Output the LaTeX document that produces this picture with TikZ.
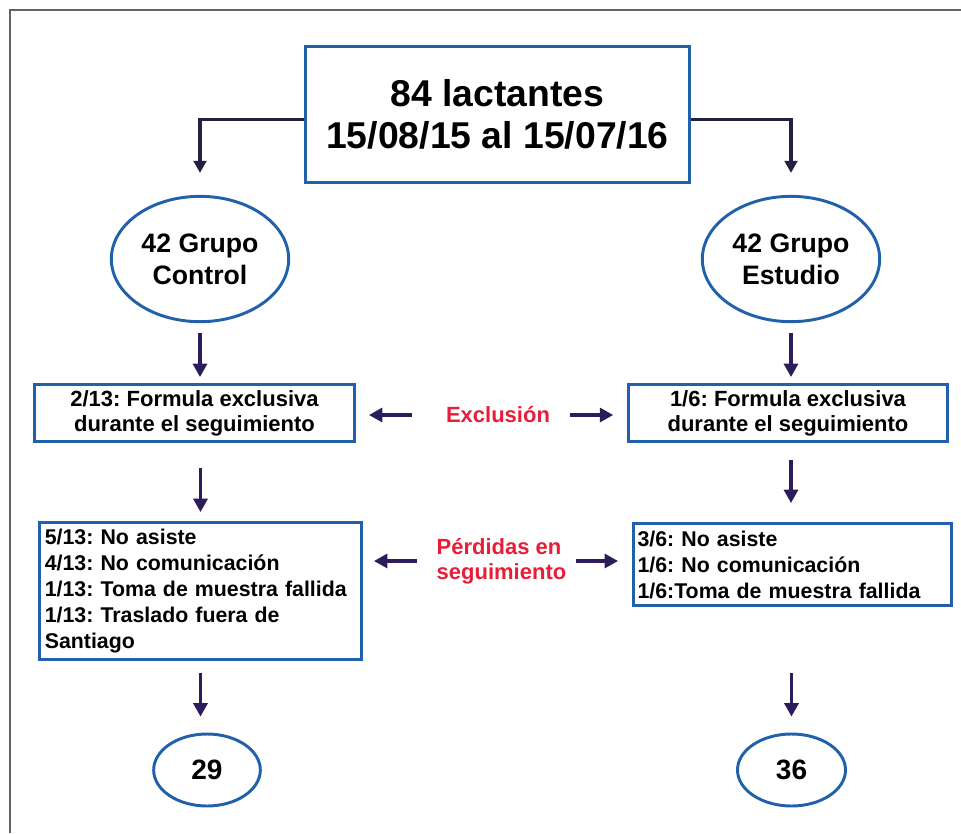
\documentclass[tikz,border=0pt]{standalone}
\usepackage{fontspec}
\setmainfont{Liberation Sans}
\usetikzlibrary{arrows.meta,shapes.geometric}
\frenchspacing
\hyphenpenalty=10000

\definecolor{azulcaja}{RGB}{33,96,170}
\definecolor{moradoflecha}{RGB}{44,28,92}
\definecolor{oscuroflecha}{RGB}{36,32,66}
\definecolor{rojoetiqueta}{RGB}{232,30,56}
\definecolor{grismarco}{RGB}{100,100,100}

\begin{document}
\begin{tikzpicture}[x=0.75pt,y=0.75pt,yscale=-1,xscale=1,
  caja/.style={draw=azulcaja, line width=2.2pt, inner sep=0pt, align=center},
  ovalo/.style={ellipse, draw=azulcaja, line width=2.2pt, inner sep=0pt, align=center},
  flecha/.style={draw=moradoflecha, line width=2.3pt, -{Triangle[length=10pt,width=10.5pt]}},
  flechasup/.style={draw=oscuroflecha, line width=2.3pt, -{Triangle[length=9pt,width=9.5pt]}},
  etiqueta/.style={text=rojoetiqueta, inner sep=0pt, font=\fontsize{16.5}{18.75}\bfseries}]
\useasboundingbox (0,0) rectangle (961,833);

%Shape: Frame
\draw [color=grismarco, line width=2.2pt] (10,833) -- (10,10) -- (961,10);

% Text Node
\node [caja, minimum width=288pt, minimum height=102pt, font=\fontsize{28}{31}\bfseries] (sup) at (497.5,114.5) {84 lactantes\\15/08/15 al 15/07/16};
% Text Node
\node [ovalo, minimum width=133pt, minimum height=94pt, font=\fontsize{20}{24}\bfseries] (ctrl) at (200,259) {42 Grupo\\Control};
% Text Node
\node [ovalo, minimum width=133pt, minimum height=94pt, font=\fontsize{20}{24}\bfseries] (est) at (791,259) {42 Grupo\\Estudio};

% Text Node
\node [caja, minimum width=240pt, minimum height=42.75pt, font=\fontsize{16.5}{18.75}\bfseries] (excA) at (194.5,413) {2/13: Formula exclusiva\\durante el seguimiento};
% Text Node
\node [caja, minimum width=239pt, minimum height=42.75pt, font=\fontsize{16.5}{18.75}\bfseries] (excB) at (788,413) {1/6: Formula exclusiva\\durante el seguimiento};

% Text Node
\node [caja, align=left, inner xsep=4pt, text width=233.5pt, minimum height=102.75pt, font=\fontsize{16}{19.5}\bfseries] (perA) at (200.5,591) {5/13: No asiste\\4/13: No comunicación\\1/13: Toma de muestra fallida\\1/13: Traslado fuera de\\Santiago};
% Text Node
\node [caja, align=left, inner xsep=3pt, text width=232.5pt, minimum height=61.5pt, font=\fontsize{16}{19.5}\bfseries] (perB) at (792.5,564.5) {3/6: No asiste\\1/6: No comunicación\\1/6:Toma de muestra fallida};

% Text Node
\node [ovalo, minimum width=80pt, minimum height=54pt, font=\fontsize{21}{24}\bfseries] (finA) at (207,770) {29};
% Text Node
\node [ovalo, minimum width=81pt, minimum height=54pt, font=\fontsize{21}{24}\bfseries] (finB) at (791.5,770) {36};

% Text Node
\node [etiqueta] (excl) at (498,415) {Exclusión};
% Text Node
\node [etiqueta, align=left] (perd) at (501.5,561) {Pérdidas en\\seguimiento};

%Straight Lines
\draw [flechasup] ([yshift=4pt]sup.west) -| ([yshift=-16.5pt]ctrl.north);
\draw [flechasup] ([yshift=4pt]sup.east) -| ([yshift=-16.5pt]est.north);
%Straight Lines
\draw [flecha, shorten <=7.5pt, shorten >=4.5pt] (ctrl.south) -- (ctrl.south |- excA.north);
\draw [flecha, shorten <=7.5pt, shorten >=4.5pt] (est.south) -- (est.south |- excB.north);
\draw [flecha, shorten <=18.75pt, shorten >=6.75pt] (excA.south -| perA.north) -- (perA.north);
\draw [flecha, shorten <=12.75pt, shorten >=14.25pt] (excB.south -| est.south) -- (est.south |- perB.north);
\draw [flecha, shorten <=9pt, shorten >=12pt] (perA.south) -- (perA.south |- finA.north);
\draw [flecha, shorten <=49.5pt, shorten >=12pt] (finB.north |- perB.south) -- (finB.north);
%Straight Lines
\draw [flecha, shorten <=25.5pt, shorten >=9.75pt] (excl.west) -- (excl.west -| excA.east);
\draw [flecha, shorten <=15pt, shorten >=10.5pt] (excl.east) -- (excl.east -| excB.west);
\draw [flecha, shorten <=14.25pt, shorten >=8.25pt] (perd.west) -- (perd.west -| perA.east);
\draw [flecha, shorten <=6.75pt, shorten >=10.5pt] (perd.east) -- (perd.east -| perB.west);

\end{tikzpicture}
\end{document}
